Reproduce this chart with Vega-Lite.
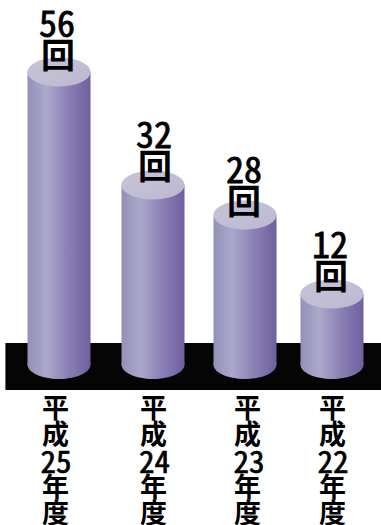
{
  "$schema": "https://vega.github.io/schema/vega-lite/v6.json",
  "width": 381,
  "height": 525,
  "padding": 0,
  "autosize": "none",
  "background": "white",
  "config": {"view": {"stroke": null}},
  "datasets": {
    "meetings": [
      {"heisei": 25, "count": 56, "unit": "回", "yearDigits": "25", "era": "平\n成", "suffix": "年\n度"},
      {"heisei": 24, "count": 32, "unit": "回", "yearDigits": "24", "era": "平\n成", "suffix": "年\n度"},
      {"heisei": 23, "count": 28, "unit": "回", "yearDigits": "23", "era": "平\n成", "suffix": "年\n度"},
      {"heisei": 22, "count": 12, "unit": "回", "yearDigits": "22", "era": "平\n成", "suffix": "年\n度"}
    ],
    "floor": [
      {"leftEdge": 25.57, "rightEdge": 21.4, "top": 3.66, "bottom": -4.34}
    ]
  },
  "layer": [
    {
      "data": {"name": "floor"},
      "mark": {"type": "rect", "fill": "#050505"},
      "encoding": {
        "x": {"field": "leftEdge", "type": "quantitative", "axis": null,
          "scale": {"domain": [26, 25, 24, 23, 22, 21], "range": [-35, 59, 153, 245, 332, 420], "zero": false, "nice": false}},
        "x2": {"field": "rightEdge"},
        "y": {"field": "top", "type": "quantitative", "axis": null,
          "scale": {"domain": [-10, 0, 12, 28, 32, 56], "range": [423.25, 364.5, 294, 215, 185, 72], "zero": false, "nice": false}},
        "y2": {"field": "bottom"}
      }
    },
    {
      "data": {"name": "meetings"},
      "mark": {"type": "bar", "orient": "vertical", "size": 63,
        "fill": {"gradient": "linear", "x1": 0, "y1": 0, "x2": 1, "y2": 0, "stops": [
          {"offset": 0, "color": "#9390b8"},
          {"offset": 0.3, "color": "#aba9cb"},
          {"offset": 0.6, "color": "#8e84b8"},
          {"offset": 1, "color": "#6f5f9f"}
        ]}},
      "encoding": {
        "x": {"field": "heisei", "type": "quantitative", "axis": null,
          "scale": {"domain": [26, 25, 24, 23, 22, 21], "range": [-35, 59, 153, 245, 332, 420], "zero": false, "nice": false}},
        "y": {"field": "count", "type": "quantitative", "axis": null, "stack": null,
          "scale": {"domain": [-10, 0, 12, 28, 32, 56], "range": [423.25, 364.5, 294, 215, 185, 72], "zero": false, "nice": false}},
        "y2": {"datum": 0}
      }
    },
    {
      "data": {"name": "meetings"},
      "mark": {"type": "point", "filled": true, "opacity": 1, "size": 3969,
        "shape": "M-1,-0.05L1,-0.05L1,0A1,0.46 0 0 1 -1,0Z",
        "fill": {"gradient": "linear", "x1": 0, "y1": 0, "x2": 1, "y2": 0, "stops": [
          {"offset": 0, "color": "#9390b8"},
          {"offset": 0.3, "color": "#aba9cb"},
          {"offset": 0.6, "color": "#8e84b8"},
          {"offset": 1, "color": "#6f5f9f"}
        ]}},
      "encoding": {
        "x": {"field": "heisei", "type": "quantitative", "axis": null,
          "scale": {"domain": [26, 25, 24, 23, 22, 21], "range": [-35, 59, 153, 245, 332, 420], "zero": false, "nice": false}},
        "y": {"datum": 0, "type": "quantitative", "axis": null,
          "scale": {"domain": [-10, 0, 12, 28, 32, 56], "range": [423.25, 364.5, 294, 215, 185, 72], "zero": false, "nice": false}}
      }
    },
    {
      "data": {"name": "meetings"},
      "mark": {"type": "point", "filled": true, "opacity": 1, "size": 3969,
        "shape": "M-1,0A1,0.46 0 1 1 1,0A1,0.46 0 1 1 -1,0Z",
        "fill": {"gradient": "linear", "x1": 0, "y1": 0, "x2": 1, "y2": 1, "stops": [
          {"offset": 0, "color": "#c6c4d8"},
          {"offset": 1, "color": "#bdb8d2"}
        ]}},
      "encoding": {
        "x": {"field": "heisei", "type": "quantitative", "axis": null,
          "scale": {"domain": [26, 25, 24, 23, 22, 21], "range": [-35, 59, 153, 245, 332, 420], "zero": false, "nice": false}},
        "y": {"field": "count", "type": "quantitative", "axis": null,
          "scale": {"domain": [-10, 0, 12, 28, 32, 56], "range": [423.25, 364.5, 294, 215, 185, 72], "zero": false, "nice": false}}
      }
    },
    {
      "data": {"name": "meetings"},
      "mark": {"type": "text", "font": "'Noto Sans Mono CJK JP', 'Liberation Sans'", "fontSize": 36, "baseline": "alphabetic", "fill": "#000000", "stroke": "#000000", "strokeWidth": 0.8},
      "encoding": {
        "x": {"field": "heisei", "type": "quantitative", "axis": null,
          "scale": {"domain": [25, 24, 23, 22], "range": [57, 154, 244, 330], "zero": false, "nice": false}},
        "y": {"field": "count", "type": "quantitative", "axis": null,
          "scale": {"domain": [12, 28, 32, 56], "range": [258, 183, 148, 37], "zero": false, "nice": false}},
        "text": {"field": "count", "type": "quantitative"}
      }
    },
    {
      "data": {"name": "meetings"},
      "mark": {"type": "text", "font": "Noto Sans CJK JP", "fontWeight": "bold", "fontSize": 34, "baseline": "middle", "dy": 21, "fill": "#000000"},
      "encoding": {
        "x": {"field": "heisei", "type": "quantitative", "axis": null,
          "scale": {"domain": [25, 24, 23, 22], "range": [58, 155, 244, 331], "zero": false, "nice": false}},
        "y": {"field": "count", "type": "quantitative", "axis": null,
          "scale": {"domain": [12, 28, 32, 56], "range": [258, 183, 148, 37], "zero": false, "nice": false}},
        "text": {"field": "unit"}
      }
    },
    {
      "data": {"name": "meetings"},
      "mark": {"type": "text", "font": "Noto Sans CJK JP", "fontWeight": "bold", "fontSize": 27, "lineBreak": "\n", "lineHeight": 26, "baseline": "alphabetic", "dy": 53, "fill": "#000000"},
      "encoding": {
        "x": {"field": "heisei", "type": "quantitative", "axis": null,
          "scale": {"domain": [25, 24, 23, 22], "range": [55.5, 153.5, 247.5, 332.5], "zero": false, "nice": false}},
        "y": {"datum": 0, "type": "quantitative", "axis": null,
          "scale": {"domain": [-10, 0, 12, 28, 32, 56], "range": [423.25, 364.5, 294, 215, 185, 72], "zero": false, "nice": false}},
        "text": {"field": "era"}
      }
    },
    {
      "data": {"name": "meetings"},
      "mark": {"type": "text", "font": "Noto Sans CJK JP", "fontWeight": "bold", "fontSize": 27, "lineBreak": "\n", "lineHeight": 26, "baseline": "alphabetic", "dy": 132, "fill": "#000000"},
      "encoding": {
        "x": {"field": "heisei", "type": "quantitative", "axis": null,
          "scale": {"domain": [25, 24, 23, 22], "range": [55.5, 153.5, 247.5, 332.5], "zero": false, "nice": false}},
        "y": {"datum": 0, "type": "quantitative", "axis": null,
          "scale": {"domain": [-10, 0, 12, 28, 32, 56], "range": [423.25, 364.5, 294, 215, 185, 72], "zero": false, "nice": false}},
        "text": {"field": "suffix"}
      }
    },
    {
      "data": {"name": "meetings"},
      "mark": {"type": "text", "font": "'Noto Sans Mono CJK JP', 'Liberation Sans'", "fontSize": 31, "baseline": "alphabetic", "dy": 108.5, "fill": "#000000", "stroke": "#000000", "strokeWidth": 0.7},
      "encoding": {
        "x": {"field": "heisei", "type": "quantitative", "axis": null,
          "scale": {"domain": [25, 24, 23, 22], "range": [56, 154.5, 249, 333], "zero": false, "nice": false}},
        "y": {"datum": 0, "type": "quantitative", "axis": null,
          "scale": {"domain": [-10, 0, 12, 28, 32, 56], "range": [423.25, 364.5, 294, 215, 185, 72], "zero": false, "nice": false}},
        "text": {"field": "yearDigits"}
      }
    }
  ],
  "resolve": {"scale": {"x": "independent", "y": "independent"}}
}
